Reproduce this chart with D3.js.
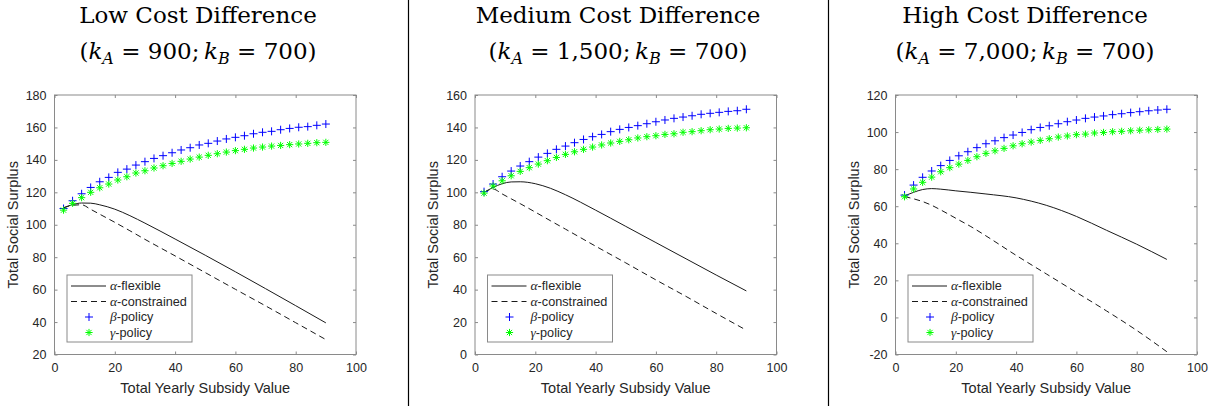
<!DOCTYPE html>
<html lang="en">
<head>
<meta charset="UTF-8">
<title>Total Social Surplus by Cost Difference</title>
<script src="https://d3js.org/d3.v7.min.js"></script>
<style>
    body { margin: 0; background: #fff; }
    .tick text { font-family: "Liberation Sans", Arial, sans-serif; font-size: 12.5px; fill: #262626; }
    .tick line { stroke: #8a8a8a; }
    .axis-label { font-family: "Liberation Sans", Arial, sans-serif; font-size: 14.5px; fill: #262626; }
    .title { font-family: "DejaVu Serif", serif; font-size: 23px; fill: #000; }
    .legend text { font-family: "Liberation Sans", Arial, sans-serif; font-size: 12.7px; fill: #262626; }
</style>
</head>
<body>
<script>
    // x positions of the markers and of the line samples
    var xMarks = [3, 6, 9, 12, 15, 18, 21, 24, 27, 30, 33, 36, 39, 42, 45, 48, 51, 54, 57, 60, 63, 66, 69, 72, 75, 78, 81, 84, 87, 90];
    var xLine = [3, 6, 9, 12, 15, 20, 25, 30, 40, 50, 60, 70, 80, 90];

    // Low cost difference
    var lowBeta = [110, 114.8, 119.1, 123, 126.5, 129.2, 132.3, 134.3, 136.8, 138.9, 140.9, 142.6, 144.4, 146.1, 147.5, 149.2, 150.2, 151.6, 152.9, 153.9, 154.9, 156.1, 157, 157.6, 158.6, 159.4, 160.1, 160.5, 161.3, 162.1];
    var lowGamma = [109, 113.2, 116.7, 120, 122.8, 125.1, 127.6, 129.6, 131.9, 133.3, 135, 136.4, 137.8, 139.1, 140.5, 141.7, 142.8, 143.8, 144.8, 145.7, 146.5, 147.3, 147.9, 148.5, 148.9, 149.4, 149.8, 150.2, 150.6, 150.8];
    var lowFlex = [110.5, 112.4, 113.4, 113.3, 112.3, 109.6, 105.6, 101, 91.2, 81.2, 71, 60.6, 50.1, 39.5];
    var lowCons = [110.3, 112, 112.3, 109.5, 106.5, 101.5, 96.3, 91, 80.8, 70.5, 60.2, 50, 39.6, 29.2];

    // Medium cost difference
    var medBeta = [100.4, 105.1, 109.6, 113.1, 116.2, 118.9, 121.7, 124, 126.5, 128.5, 130.6, 132.6, 134.3, 135.7, 137.4, 138.8, 140, 141.1, 142.3, 143.5, 144.6, 145.6, 146.4, 147.2, 148.1, 148.7, 149.3, 149.9, 150.3, 151.2];
    var medGamma = [99.5, 103.9, 107.1, 110.2, 112.9, 115.2, 117.4, 119.5, 121.5, 123.4, 125, 126.5, 127.9, 129.2, 130.4, 131.4, 132.4, 133.5, 134.3, 134.9, 135.7, 136.1, 137, 137.4, 138, 138.6, 139, 139.4, 139.6, 139.8];
    var medFlex = [100, 103, 105.3, 106.4, 106.5, 105.3, 102.5, 98.5, 89, 79, 69, 59, 49, 39.2];
    var medCons = [100, 102, 99, 96, 93, 87.8, 82.5, 77.3, 66.8, 56.5, 46, 35.8, 25.3, 15];

    // High cost difference
    var highBeta = [66, 71.4, 75.6, 79, 81.9, 84.7, 87.2, 89.4, 91.6, 93.7, 95.3, 97, 98.4, 99.8, 101.3, 102.5, 103.4, 104.5, 105.6, 106.5, 107.4, 108.1, 108.7, 109.4, 109.9, 110.5, 111, 111.5, 111.9, 112.3];
    var highGamma = [65.1, 69.3, 72.9, 75.7, 78.6, 80.8, 82.7, 84.7, 86.7, 88.5, 89.9, 91.2, 92.6, 93.7, 94.6, 95.5, 96.4, 97.3, 97.9, 98.6, 98.9, 99.5, 99.8, 100.2, 100.4, 100.7, 101, 101.2, 101.4, 101.6];
    var highFlex = [65.6, 67.5, 69, 69.5, 69.2, 68.3, 67.5, 66.6, 64.5, 60.5, 54.5, 47, 39.5, 31.3];
    var highCons = [65.2, 64, 62.5, 60.5, 58, 53.5, 49, 44, 33.5, 23.5, 13.5, 3.5, -7, -18.5];

    // Titles and axes
    var titles = ["Low Cost Difference", "Medium Cost Difference", "High Cost Difference"];
    var kA = ["900", "1,500", "7,000"];
    var kB = "700";
    var xTicks = [0, 20, 40, 60, 80, 100];
    var yTicksList = [
        [20, 40, 60, 80, 100, 120, 140, 160, 180],
        [0, 20, 40, 60, 80, 100, 120, 140, 160],
        [-20, 0, 20, 40, 60, 80, 100, 120]
    ];
    var legendNames = ["flexible", "constrained", "policy", "policy"];
    var legendGreek = ["\u03b1", "\u03b1", "\u03b2", "\u03b3"];

    var panels = [
        { beta: lowBeta, gamma: lowGamma, flex: lowFlex, cons: lowCons },
        { beta: medBeta, gamma: medGamma, flex: medFlex, cons: medCons },
        { beta: highBeta, gamma: highGamma, flex: highFlex, cons: highCons }
    ];

    // layout
    var svgW = 1215, svgH = 406;
    var lefts = [54.5, 475, 895.5];
    var titleCenters = [198, 618, 1025];
    var separators = [408.5, 828.5];
    var pw = 301.5, plotTop = 95, ph = 259.5;

    var svg = d3.select("body").append("svg")
        .attr("width", svgW)
        .attr("height", svgH);

    // thin vertical rules between the panels
    separators.forEach(function (sx) {
        svg.append("line")
            .attr("x1", sx).attr("x2", sx)
            .attr("y1", 0).attr("y2", svgH)
            .attr("stroke", "#000")
            .attr("stroke-width", 1.2);
    });

    var plusPath = "M-4,0H4M0,-4V4";
    var starPath = "M-3.6,0H3.6M0,-3.6V3.6M-2.6,-2.6L2.6,2.6M-2.6,2.6L2.6,-2.6";
    var plainNum = function (d) { return String(d); }; // keep "-20" with a hyphen like MATLAB

    panels.forEach(function (p, i) {
        var left = lefts[i];
        var yTicks = yTicksList[i];
        var x = d3.scaleLinear().domain([0, 100]).range([left, left + pw]);
        var y = d3.scaleLinear().domain([yTicks[0], yTicks[yTicks.length - 1]]).range([plotTop + ph, plotTop]);

        // title, two lines
        svg.append("text").attr("class", "title")
            .attr("x", titleCenters[i]).attr("y", 23)
            .attr("text-anchor", "middle")
            .text(titles[i]);

        var t2 = svg.append("text").attr("class", "title")
            .attr("x", titleCenters[i]).attr("y", 59)
            .attr("text-anchor", "middle");
        t2.append("tspan").text("(");
        t2.append("tspan").attr("font-style", "italic").text("k");
        t2.append("tspan").attr("font-style", "italic").attr("font-size", "16px").attr("dy", 5).text("A");
        t2.append("tspan").attr("dy", -5).text(" = " + kA[i] + ";\u2009");
        t2.append("tspan").attr("font-style", "italic").text("k");
        t2.append("tspan").attr("font-style", "italic").attr("font-size", "16px").attr("dy", 5).text("B");
        t2.append("tspan").attr("dy", -5).text(" = " + kB + ")");

        // axes box
        svg.append("rect")
            .attr("x", left).attr("y", plotTop)
            .attr("width", pw).attr("height", ph)
            .attr("fill", "#fff")
            .attr("stroke", "#8a8a8a")
            .attr("stroke-width", 1);

        // ticks on all four sides, pointing in
        var gB = svg.append("g")
            .attr("transform", "translate(0," + (plotTop + ph) + ")")
            .call(d3.axisBottom(x).tickValues(xTicks).tickFormat(plainNum).tickSizeInner(-3).tickSizeOuter(0).tickPadding(9));
        var gT = svg.append("g")
            .attr("transform", "translate(0," + plotTop + ")")
            .call(d3.axisTop(x).tickValues(xTicks).tickSizeInner(-3).tickSizeOuter(0).tickFormat(""));
        var gL = svg.append("g")
            .attr("transform", "translate(" + left + ",0)")
            .call(d3.axisLeft(y).tickValues(yTicks).tickFormat(plainNum).tickSizeInner(-3).tickSizeOuter(0).tickPadding(8));
        var gR = svg.append("g")
            .attr("transform", "translate(" + (left + pw) + ",0)")
            .call(d3.axisRight(y).tickValues(yTicks).tickSizeInner(-3).tickSizeOuter(0).tickFormat(""));
        [gB, gT, gL, gR].forEach(function (g) {
            g.select(".domain").remove();
            g.attr("font-size", null).attr("font-family", null);
        });

        // axis labels
        svg.append("text").attr("class", "axis-label")
            .attr("x", left + pw / 2).attr("y", 393)
            .attr("text-anchor", "middle")
            .text("Total Yearly Subsidy Value");

        svg.append("text").attr("class", "axis-label")
            .attr("transform", "translate(" + (left - 37) + "," + (plotTop + ph / 2) + ") rotate(-90)")
            .attr("text-anchor", "middle")
            .text("Total Social Surplus");

        // lines
        var line = d3.line()
            .x(function (d) { return x(d[0]); })
            .y(function (d) { return y(d[1]); })
            .curve(d3.curveMonotoneX);

        svg.append("path")
            .datum(d3.zip(xLine, p.flex))
            .attr("d", line)
            .attr("fill", "none")
            .attr("stroke", "#1a1a1a")
            .attr("stroke-width", 1);

        svg.append("path")
            .datum(d3.zip(xLine, p.cons))
            .attr("d", line)
            .attr("fill", "none")
            .attr("stroke", "#1a1a1a")
            .attr("stroke-width", 1)
            .attr("stroke-dasharray", "6,4");

        // markers
        svg.append("g").selectAll("path")
            .data(d3.zip(xMarks, p.beta))
            .enter().append("path")
            .attr("transform", function (d) { return "translate(" + x(d[0]) + "," + y(d[1]) + ")"; })
            .attr("d", plusPath)
            .attr("fill", "none")
            .attr("stroke", "#0000ff")
            .attr("stroke-width", 1);

        svg.append("g").selectAll("path")
            .data(d3.zip(xMarks, p.gamma))
            .enter().append("path")
            .attr("transform", function (d) { return "translate(" + x(d[0]) + "," + y(d[1]) + ")"; })
            .attr("d", starPath)
            .attr("fill", "none")
            .attr("stroke", "#00ff00")
            .attr("stroke-width", 1);

        // legend
        var lg = svg.append("g").attr("class", "legend")
            .attr("transform", "translate(" + (left + 12.5) + "," + (plotTop + 180) + ")");
        lg.append("rect")
            .attr("width", 125).attr("height", 67)
            .attr("fill", "#fff")
            .attr("stroke", "#8a8a8a")
            .attr("stroke-width", 1);

        var rowY = [11, 26.5, 42, 57.5];
        lg.append("line").attr("x1", 4).attr("x2", 39).attr("y1", rowY[0]).attr("y2", rowY[0])
            .attr("stroke", "#1a1a1a").attr("stroke-width", 1);
        lg.append("line").attr("x1", 4).attr("x2", 39).attr("y1", rowY[1]).attr("y2", rowY[1])
            .attr("stroke", "#1a1a1a").attr("stroke-width", 1).attr("stroke-dasharray", "6,4");
        lg.append("path").attr("transform", "translate(22," + rowY[2] + ")")
            .attr("d", plusPath).attr("fill", "none").attr("stroke", "#0000ff");
        lg.append("path").attr("transform", "translate(22," + rowY[3] + ")")
            .attr("d", starPath).attr("fill", "none").attr("stroke", "#00ff00");

        legendNames.forEach(function (name, j) {
            var tx = lg.append("text")
                .attr("x", 43).attr("y", rowY[j]).attr("dy", "0.35em");
            tx.append("tspan")
                .attr("font-family", "'Liberation Serif', serif")
                .attr("font-style", "italic")
                .attr("font-size", "13.5px")
                .text(legendGreek[j]);
            tx.append("tspan").text("-" + name);
        });
    });
</script>
</body>
</html>
